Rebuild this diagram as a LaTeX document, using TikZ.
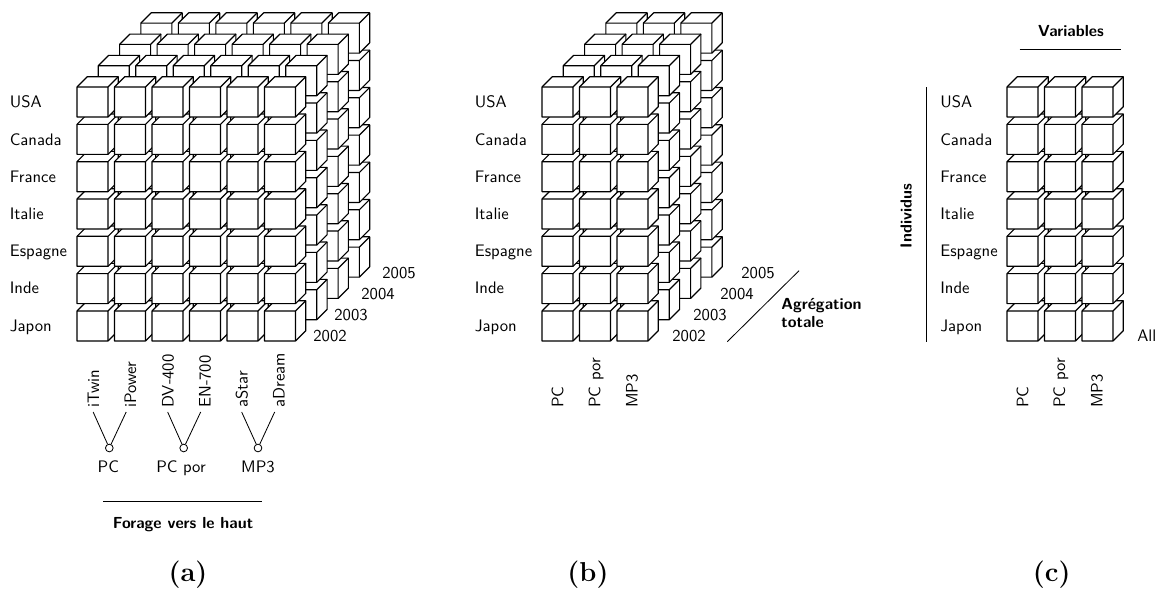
\documentclass[tikz,border=0pt]{standalone}
\usepackage{amsmath,amssymb}
\usetikzlibrary{positioning}

\newcommand{\cubestack}[3]{%
  \foreach \d in {#3,...,0}
    \foreach \r in {6,...,0}
      \foreach \c in {0,...,#2}
        \pic at ({#1+21.3*\d+37.5*\c},{87-21.3*\d+37.33*\r}) {cube};
}
\newcommand{\rowlabels}[2]{%
  \foreach \name [count=\r from 0] in {USA,Canada,France,Italie,Espagne,Inde,Japon}
    \node[lab, anchor=base west] (#2\r) at (#1,{107.8+37.2*\r}) {\name};
}

\begin{document}
\begin{tikzpicture}[
  x=0.6pt, y=-0.6pt,
  font=\sffamily,
  lab/.style={inner sep=0pt},
  rotlab/.style={rotate=90, anchor=base west, inner sep=2.4pt, text height=7pt, text depth=2pt},
  strong/.style={inner sep=0pt, font=\sffamily\fontsize{9.6}{11.5}\selectfont\bfseries},
  caption/.style={inner sep=0pt, anchor=base, font=\rmfamily\fontsize{16.4}{20}\selectfont\bfseries},
  junc/.style={draw, circle, inner sep=0pt, minimum size=4.6pt, line width=0.5pt},
  conn/.style={line width=0.5pt},
  sep/.style={line width=0.5pt},
  cube/.pic={
    \draw[line width=0.7pt, fill=white, line join=round] (0,0) -- (10.3,-10.3) -- (41.3,-10.3) -- (41.3,19.7) -- (31,30) -- (0,30) -- cycle;
    \draw[line width=0.7pt, line join=round] (0,0) -- (31,0) -- (31,30) (31,0) -- (41.3,-10.3);
  },
]
\useasboundingbox (0,0) rectangle (1164,588);

% (a)
\cubestack{77}{5}{3}
\rowlabels{9.5}{a}
\node[lab, anchor=base west] (a2002) at (313,341.5) {2002};
\node[lab, anchor=base west] (a2003) at (334,320.5) {2003};
\node[lab, anchor=base west] (a2004) at (361,299) {2004};
\node[lab, anchor=base west] (a2005) at (382,278) {2005};

\node[rotlab] (itwin) at (99,412) {iTwin};
\node[rotlab] (ipower) at (136,412) {iPower};
\node[rotlab] (dv) at (173.5,412) {DV-400};
\node[rotlab] (en) at (210.5,412) {EN-700};
\node[rotlab] (astar) at (247.5,412) {aStar};
\node[rotlab] (adream) at (284.5,412) {aDream};

\node[junc] (jpc) at (109.3,448) {};
\node[junc] (jpor) at (183.7,448) {};
\node[junc] (jmp) at (258,448) {};
\node[lab, below=5pt of jpc, xshift=-0.6pt] (pc) {PC};
\node[lab, below=5pt of jpor, xshift=-1.6pt] (por) {PC por};
\node[lab, below=5pt of jmp] (mp) {MP3};

\draw[conn] ([xshift=-1pt]itwin.west) -- (jpc);
\draw[conn] ([xshift=-3.4pt]ipower.west) -- (jpc);
\draw[conn] ([xshift=-1pt]dv.west) -- (jpor);
\draw[conn] ([xshift=-3.4pt]en.west) -- (jpor);
\draw[conn] ([xshift=-1pt]astar.west) -- (jmp);
\draw[conn] ([xshift=-3.4pt]adream.west) -- (jmp);

\draw[sep] (103,501) -- (262,501);
\node[strong, anchor=base] (forage) at (183,528) {Forage vers le haut};
\node[caption] (capa) at (188,581) {(a)};

% (b)
\cubestack{542}{2}{3}
\rowlabels{474.5}{b}
\node[lab, anchor=base west] (b2002) at (672,341.5) {2002};
\node[lab, anchor=base west] (b2003) at (693,320.5) {2003};
\node[lab, anchor=base west] (b2004) at (720,299) {2004};
\node[lab, anchor=base west] (b2005) at (741,278) {2005};
\node[rotlab] (bpc) at (563.3,412) {PC};
\node[rotlab] (bpor) at (600.3,412) {PC por};
\node[rotlab] (bmp) at (637.7,412) {MP3};
\draw[sep] (727.3,341.7) -- (799,270.7);
\node[strong, anchor=base west] (agr) at (781,309) {Agrégation};
\node[strong, below=0pt of agr.base west, anchor=base west, yshift=-11.2pt] (tot) {totale};
\node[caption] (capb) at (588,581) {(b)};

% (c)
\cubestack{1007}{2}{0}
\rowlabels{940}{c}
\node[lab, anchor=base west] (all) at (1137,341.5) {All};
\node[rotlab] (cpc) at (1028.3,412) {PC};
\node[rotlab] (cpor) at (1065,412) {PC por};
\node[rotlab] (cmp) at (1102.7,412) {MP3};
\draw[sep] (926.6,87) -- (926.6,342);
\draw[sep] (1019.7,49.5) -- (1120.7,49.5);
\node[strong, anchor=base] (var) at (1071,36.5) {Variables};
\node[strong, rotate=90, anchor=base] (ind) at (911.7,216) {Individus};
\node[caption] (capc) at (1051.7,581) {(c)};
\end{tikzpicture}
\end{document}
